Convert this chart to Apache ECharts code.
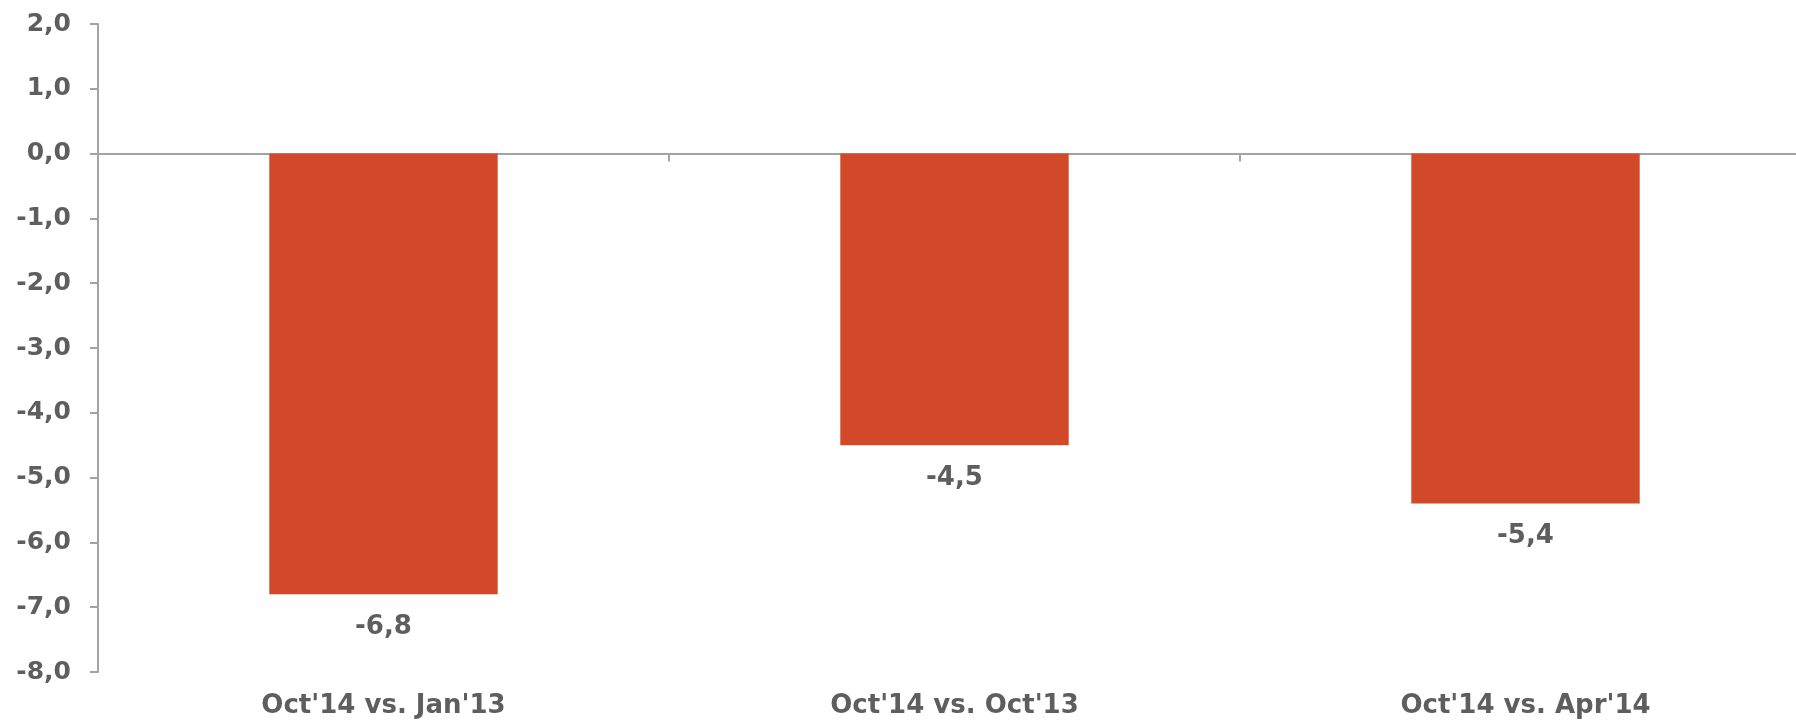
<!DOCTYPE html>
<html>
<head>
<meta charset="utf-8">
<script src="https://cdn.jsdelivr.net/npm/echarts@6/dist/echarts.min.js"></script>
<style>
  html, body { margin: 0; padding: 0; background: #fff; }
  #chart { width: 1796px; height: 721px; }
</style>
</head>
<body>
<div id="chart"></div>
<script>
// data
var categories = ["Oct'14 vs. Jan'13", "Oct'14 vs. Oct'13", "Oct'14 vs. Apr'14"];
var values = [-6.8, -4.5, -5.4];
var yMin = -8, yMax = 2, yStep = 1;

var textColor = '#5e5e5e';
var lineColor = '#a3a3a3';
var fontFam = '"DejaVu Sans", Verdana, sans-serif';

function fmt(v) {
  return v.toFixed(1).replace('.', ',');
}

var myChart = echarts.init(document.getElementById('chart'));
var option = {
  animation: false,
  grid: {
    left: 98,
    width: 1713, // last category runs past the right edge, like the original
    top: 24,
    bottom: 49,
    containLabel: false,
    outerBoundsMode: 'none',
  },
  xAxis: [
    {
      // labels at the bottom
      type: 'category',
      data: categories,
      position: 'bottom',
      axisLine: { show: false, onZero: false },
      axisTick: { show: false },
      axisLabel: {
        interval: 0,
        margin: 21,
        color: textColor,
        fontSize: 26,
        fontWeight: 'bold',
        fontFamily: fontFam,
      },
    },
    {
      // zero line with ticks between categories
      type: 'category',
      data: categories,
      position: 'bottom',
      axisLine: { show: true, onZero: true, lineStyle: { color: lineColor, width: 2 } },
      axisTick: { show: true, length: 8, lineStyle: { color: lineColor, width: 2 } },
      axisLabel: { show: false },
    },
  ],
  yAxis: {
    type: 'value',
    min: yMin,
    max: yMax,
    interval: yStep,
    splitLine: { show: false },
    axisLine: { show: true, lineStyle: { color: lineColor, width: 2 } },
    axisTick: { show: true, length: 8, lineStyle: { color: lineColor, width: 2 } },
    axisLabel: {
      margin: 27,
      color: textColor,
      fontSize: 25,
      fontWeight: 'bold',
      fontFamily: fontFam,
      formatter: fmt,
    },
  },
  series: [
    {
      type: 'bar',
      xAxisIndex: 0,
      barWidth: '40%',
      data: values,
      itemStyle: { color: '#d2492a' },
      label: {
        show: true,
        position: 'bottom',
        distance: 20,
        color: textColor,
        fontSize: 26,
        fontWeight: 'bold',
        fontFamily: fontFam,
        formatter: function (p) { return fmt(p.value); },
      },
    },
  ],
};
option && myChart.setOption(option);
</script>
</body>
</html>
